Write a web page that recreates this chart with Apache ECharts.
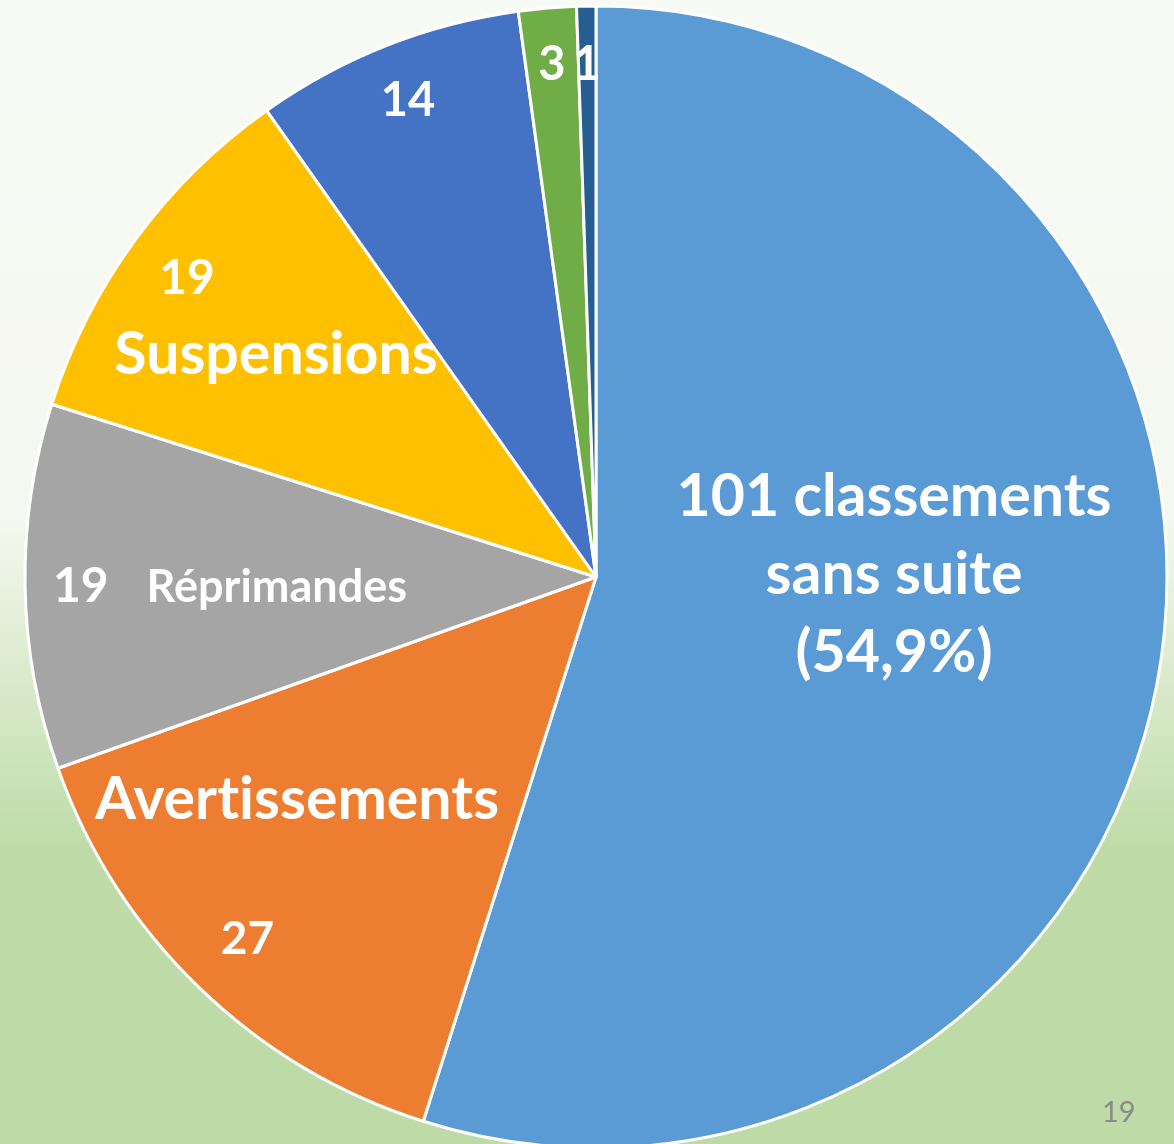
<!DOCTYPE html>
<html>
<head>
<meta charset="utf-8">
<script src="https://cdn.jsdelivr.net/npm/echarts@6/dist/echarts.min.js"></script>
<style>
  html, body { margin: 0; padding: 0; }
  #chart { width: 1174px; height: 1144px; }
</style>
</head>
<body>
<div id="chart"></div>
<script>
// decisions split by type (clockwise from 12 o'clock)
const categories = ['Classements sans suite', 'Avertissements', 'Réprimandes', 'Suspensions', 'Autre A', 'Autre B', 'Autre C']
const counts = [101, 27, 19, 19, 14, 3, 1]
const colors = ['#5b9bd5', '#ed7d31', '#a5a5a5', '#ffc000', '#4472c4', '#70ad47', '#255e91']
const pageNumber = '19'

// where each label sits (anchor = centre of the text block)
const labelAnchors = [
  [894, 575],
  [297, 907],
  [230, 587],
  [276, 330],
  [408, 101],
  [552, 65],
  [587, 65]
]

// \u200C keeps Lato from merging "ti" into a ligature
const labelText = function (params) {
  const v = params.value
  switch (params.dataIndex) {
    case 0:
      return '{big|' + v + ' classements}\n{big|sans suite}\n{big|(' + params.percent.toFixed(1).replace('.', ',') + '%)}'
    case 1:
      return '{big2|Avert\u200Cissements}\n{numA|' + v + '}'
    case 2:
      return '{numR|' + v + '}{rep|Réprimandes}'
    case 3:
      return '{numS|' + v + '}\n{sus|Suspensions}'
    default:
      return '{num|' + v + '}'
  }
}

const chart = echarts.init(document.getElementById('chart'))

chart.setOption({
  backgroundColor: new echarts.graphic.LinearGradient(0, 0, 0, 1, [
    { offset: 0, color: '#f8faf5' },
    { offset: 0.45, color: '#f5f8f0' },
    { offset: 0.74, color: '#bfdca8' },
    { offset: 1, color: '#bedba7' }
  ]),
  animation: false,
  graphic: [{
    type: 'text',
    left: 1102,
    top: 1098,
    style: { text: pageNumber, fill: '#8a8a8a', font: '29px Lato' }
  }],
  series: [{
    type: 'pie',
    center: [596, 577],
    radius: 571,
    startAngle: 90,
    clockwise: true,
    silent: true,
    itemStyle: { borderColor: '#ffffff', borderWidth: 3 },
    label: {
      show: true,
      position: 'inside',
      color: '#ffffff',
      fontFamily: 'Lato',
      fontWeight: 'bold',
      formatter: labelText,
      rich: {
        big: { color: '#fff', fontFamily: 'Lato', fontWeight: 'bold', fontSize: 59, lineHeight: 78 },
        big2: { color: '#fff', fontFamily: 'Lato', fontWeight: 'bold', fontSize: 59, lineHeight: 64 },
        numA: { color: '#fff', fontFamily: 'Lato', fontWeight: 'bold', fontSize: 46, lineHeight: 214, padding: [0, 99, 0, 0] },
        numR: { color: '#fff', fontFamily: 'Lato', fontWeight: 'bold', fontSize: 48, lineHeight: 56, padding: [0, 38, 0, 0] },
        rep: { color: '#fff', fontFamily: 'Lato', fontWeight: 'bold', fontSize: 45, lineHeight: 56 },
        numS: { color: '#fff', fontFamily: 'Lato', fontWeight: 'bold', fontSize: 48, lineHeight: 50, padding: [0, 178, 0, 0] },
        sus: { color: '#fff', fontFamily: 'Lato', fontWeight: 'bold', fontSize: 59, lineHeight: 102 },
        num: { color: '#fff', fontFamily: 'Lato', fontWeight: 'bold', fontSize: 47, lineHeight: 56 }
      }
    },
    labelLine: { show: false },
    labelLayout: function (params) {
      const p = labelAnchors[params.dataIndex]
      return { x: p[0], y: p[1], align: 'center', verticalAlign: 'middle' }
    },
    data: categories.map(function (name, i) {
      return { name: name, value: counts[i], itemStyle: { color: colors[i] } }
    })
  }]
})
</script>
</body>
</html>
